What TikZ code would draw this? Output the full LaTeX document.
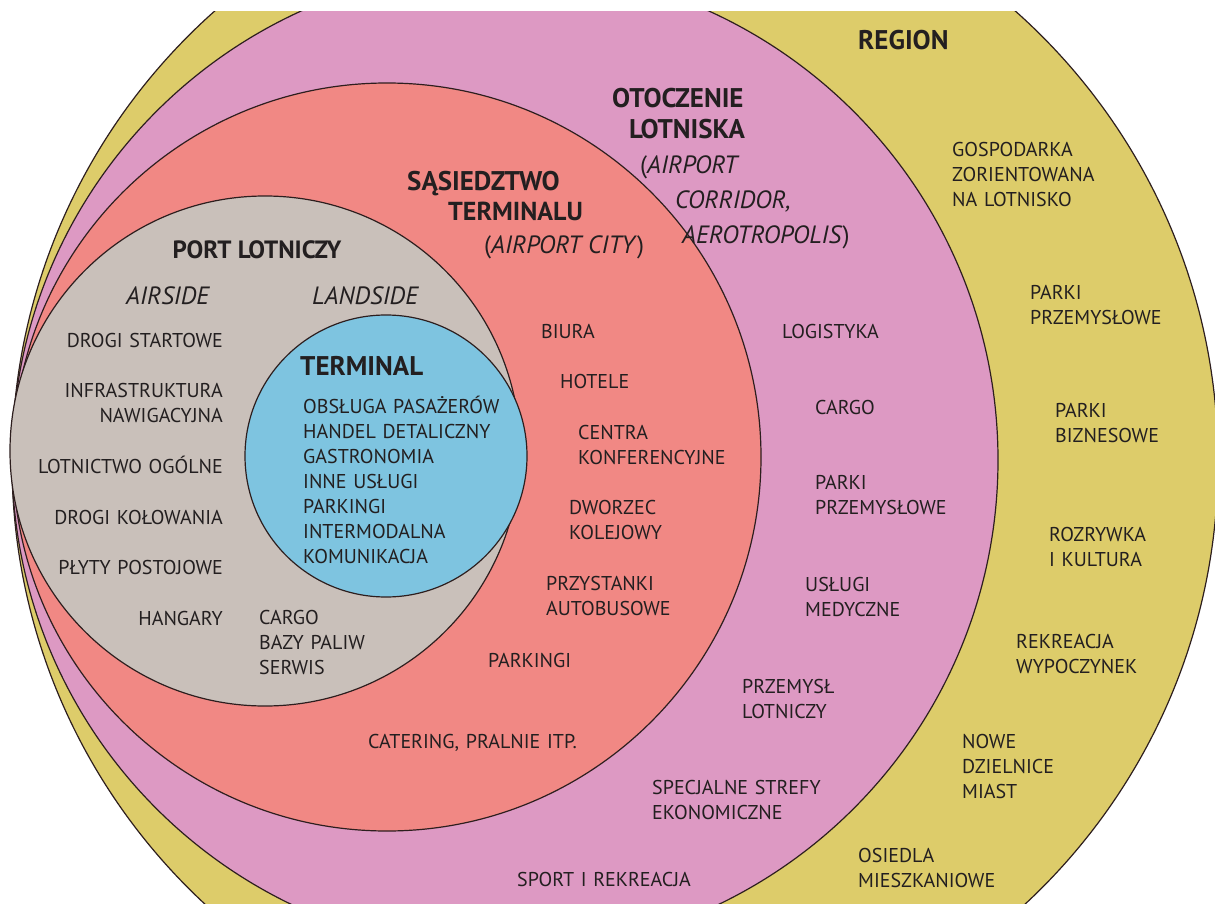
\documentclass[tikz,border=0pt]{standalone}
\usepackage{fontspec}
\setmainfont{PT Sans}
\definecolor{regionc}{RGB}{221,204,106}
\definecolor{otoczc}{RGB}{221,153,195}
\definecolor{sasiedc}{RGB}{241,136,132}
\definecolor{portc}{RGB}{201,192,186}
\definecolor{termc}{RGB}{126,196,224}
\definecolor{linec}{RGB}{45,30,30}
\definecolor{inkc}{RGB}{35,31,32}
\tikzset{
  zone/.style={draw=linec, line width=1.2pt},
  body/.style={font=\fontsize{20}{25}\selectfont, text=inkc, inner sep=0pt,
    text width=260pt, align=left, anchor=base west},
  bodyr/.style={body, align=right, anchor=base east},
  head/.style={font=\fontsize{27}{31}\selectfont\bfseries, text=inkc,
    inner sep=0pt, anchor=base west},
  headit/.style={font=\fontsize{25}{31}\selectfont, text=inkc,
    inner sep=0pt, anchor=base west}
}
\begin{document}
\begin{tikzpicture}[x=1pt, y=-1pt]
                \useasboundingbox (0,0) rectangle (1215,904);
                \begin{scope}
                \clip (0,12) rectangle (1215,904);
                \filldraw [zone, fill=regionc] (615,462) circle (603pt);
                \filldraw [zone, fill=otoczc] (505,460) circle (493pt);
                \filldraw [zone, fill=sasiedc] (387,457) circle (374pt);
                \filldraw [zone, fill=portc] (265,451) circle (255pt);
                \filldraw [zone, fill=termc] (386,456) circle (141pt);
                \end{scope}

                \node [head] (region) at (858,50) {REGION};
                \node [body] (gosp) at (952,157) {GOSPODARKA\\ZORIENTOWANA\\NA LOTNISKO};
                \node [body] (parkiP) at (1030,299) {PARKI\\PRZEMYSŁOWE};
                \node [body] (parkiB) at (1055,417) {PARKI\\BIZNESOWE};
                \node [body] (rozryw) at (1049,541) {ROZRYWKA\\I KULTURA};
                \node [body] (rekre) at (1016,648) {REKREACJA\\WYPOCZYNEK};
                \node [body] (nowe) at (962,748) {NOWE\\DZIELNICE\\MIAST};
                \node [body] (osiedla) at (858,862) {OSIEDLA\\MIESZKANIOWE};

                \node [head] (otocz) at (612,108) {OTOCZENIE};
                \node [head] (lotniska) at (629,139) {LOTNISKA};
                \node [headit] (corrA) at (640,174) {(\textit{AIRPORT}};
                \node [headit] (corrB) at (675,208) {\textit{CORRIDOR,}};
                \node [headit] (corrC) at (682,243) {\textit{AEROTROPOLIS})};
                \node [body] (logist) at (782,338) {LOGISTYKA};
                \node [body] (cargoO) at (815,414) {CARGO};
                \node [body] (parkiO) at (815,489) {PARKI\\PRZEMYSŁOWE};
                \node [body] (uslugi) at (805,591) {USŁUGI\\MEDYCZNE};
                \node [body] (przem) at (742,693) {PRZEMYSŁ\\LOTNICZY};
                \node [body] (strefy) at (652,794) {SPECJALNE STREFY\\EKONOMICZNE};
                \node [body] (sport) at (517,886) {SPORT I REKREACJA};

                \node [head] (sasiedA) at (407,191) {SĄSIEDZTWO};
                \node [head, font=\fontsize{26}{31}\selectfont\bfseries] (sasiedB) at (448,221) {TERMINALU};
                \node [headit] (sasiedC) at (484,253) {(\textit{AIRPORT CITY})};
                \node [body] (biura) at (541,338) {BIURA};
                \node [body] (hotele) at (560,388) {HOTELE};
                \node [body] (centra) at (578,439) {CENTRA\\KONFERENCYJNE};
                \node [body] (dworzec) at (569,514) {DWORZEC\\KOLEJOWY};
                \node [body] (przyst) at (546,590) {PRZYSTANKI\\AUTOBUSOWE};
                \node [body] (parkingiS) at (488,667) {PARKINGI};
                \node [body] (catering) at (368,748) {CATERING, PRALNIE ITP.};

                \node [head, font=\fontsize{25}{31}\selectfont\bfseries, anchor=base] (port) at (257,258) {PORT LOTNICZY};
                \node [headit] (airside) at (126,304) {\textit{AIRSIDE}};
                \node [headit] (landside) at (312,304) {\textit{LANDSIDE}};
                \node [bodyr] (drogiS) at (223,347) {DROGI STARTOWE};
                \node [bodyr] (infra) at (223,397) {INFRASTRUKTURA\hspace*{5pt}\\NAWIGACYJNA};
                \node [bodyr] (lotnictwo) at (223,473) {LOTNICTWO OGÓLNE};
                \node [bodyr] (drogiK) at (223,524) {DROGI KOŁOWANIA};
                \node [bodyr] (plyty) at (223,574) {PŁYTY POSTOJOWE};
                \node [bodyr] (hangary) at (223,625) {HANGARY};
                \node [body] (cargoP) at (259,624) {CARGO\\BAZY PALIW\\SERWIS};

                \node [head] (terminal) at (300,375) {TERMINAL};
                \node [body] (termList) at (303,413) {OBSŁUGA PASAŻERÓW\\HANDEL DETALICZNY\\GASTRONOMIA\\INNE USŁUGI\\PARKINGI\\INTERMODALNA\\KOMUNIKACJA};
\end{tikzpicture}
\end{document}
